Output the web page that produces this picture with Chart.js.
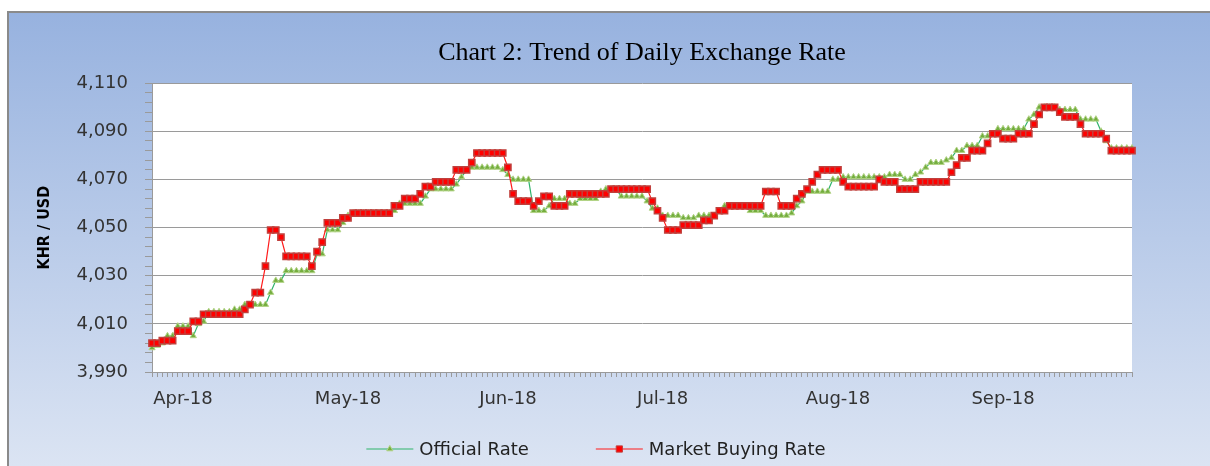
<!DOCTYPE html>
<html>
<head>
<meta charset="utf-8">
<title>Chart 2: Trend of Daily Exchange Rate</title>
<script src="https://cdn.jsdelivr.net/npm/chart.js@4.4.1/dist/chart.umd.min.js"></script>
<style>
  html, body { margin: 0; padding: 0; background: #fff; }
  canvas { display: block; }
</style>
</head>
<body>
<canvas id="chart-rate" width="1210" height="466"></canvas>
<script>
// ── Data (KHR per USD, one value per trading day, Apr–Sep 2018) ──
const officialRate = [
  4000, 4001, 4002, 4005, 4005, 4009, 4009, 4009, 4005, 4010,
  4011, 4015, 4015, 4015, 4015, 4015, 4016, 4016, 4018, 4018,
  4018, 4018, 4018, 4023, 4028, 4028, 4032, 4032, 4032, 4032,
  4032, 4032, 4039, 4039, 4049, 4049, 4049, 4052, 4055, 4056,
  4056, 4056, 4056, 4056, 4056, 4056, 4056, 4057, 4060, 4060,
  4060, 4060, 4060, 4063, 4066, 4066, 4066, 4066, 4066, 4068,
  4071, 4074, 4075, 4075, 4075, 4075, 4075, 4075, 4074, 4072,
  4070, 4070, 4070, 4070, 4057, 4057, 4057, 4059, 4062, 4062,
  4062, 4060, 4060, 4062, 4062, 4062, 4062, 4065, 4066, 4066,
  4066, 4063, 4063, 4063, 4063, 4063, 4061, 4058, 4058, 4055,
  4055, 4055, 4055, 4054, 4054, 4054, 4055, 4055, 4055, 4055,
  4057, 4059, 4059, 4059, 4059, 4059, 4057, 4057, 4057, 4055,
  4055, 4055, 4055, 4055, 4056, 4059, 4061, 4065, 4065, 4065,
  4065, 4065, 4070, 4070, 4071, 4071, 4071, 4071, 4071, 4071,
  4071, 4071, 4071, 4072, 4072, 4072, 4070, 4070, 4072, 4073,
  4075, 4077, 4077, 4077, 4078, 4079, 4082, 4082, 4084, 4084,
  4084, 4088, 4088, 4089, 4091, 4091, 4091, 4091, 4091, 4091,
  4095, 4097, 4100, 4100, 4100, 4100, 4099, 4099, 4099, 4099,
  4095, 4095, 4095, 4095, 4090, 4086, 4083, 4083, 4083, 4083,
  4083
];

const marketBuyingRate = [
  4002, 4002, 4003, 4003, 4003, 4007, 4007, 4007, 4011, 4011,
  4014, 4014, 4014, 4014, 4014, 4014, 4014, 4014, 4016, 4018,
  4023, 4023, 4034, 4049, 4049, 4046, 4038, 4038, 4038, 4038,
  4038, 4034, 4040, 4044, 4052, 4052, 4052, 4054, 4054, 4056,
  4056, 4056, 4056, 4056, 4056, 4056, 4056, 4059, 4059, 4062,
  4062, 4062, 4064, 4067, 4067, 4069, 4069, 4069, 4069, 4074,
  4074, 4074, 4077, 4081, 4081, 4081, 4081, 4081, 4081, 4075,
  4064, 4061, 4061, 4061, 4059, 4061, 4063, 4063, 4059, 4059,
  4059, 4064, 4064, 4064, 4064, 4064, 4064, 4064, 4064, 4066,
  4066, 4066, 4066, 4066, 4066, 4066, 4066, 4061, 4057, 4054,
  4049, 4049, 4049, 4051, 4051, 4051, 4051, 4053, 4053, 4055,
  4057, 4057, 4059, 4059, 4059, 4059, 4059, 4059, 4059, 4065,
  4065, 4065, 4059, 4059, 4059, 4062, 4064, 4066, 4069, 4072,
  4074, 4074, 4074, 4074, 4069, 4067, 4067, 4067, 4067, 4067,
  4067, 4070, 4069, 4069, 4069, 4066, 4066, 4066, 4066, 4069,
  4069, 4069, 4069, 4069, 4069, 4073, 4076, 4079, 4079, 4082,
  4082, 4082, 4085, 4089, 4089, 4087, 4087, 4087, 4089, 4089,
  4089, 4093, 4097, 4100, 4100, 4100, 4098, 4096, 4096, 4096,
  4093, 4089, 4089, 4089, 4089, 4087, 4082, 4082, 4082, 4082,
  4082
];

// month labels and the day index where each one sits
const monthTicks  = ['Apr-18', 'May-18', 'Jun-18', 'Jul-18', 'Aug-18', 'Sep-18'];
const monthTickAt = [6, 38, 69, 99, 133, 165];

// labelled y ticks (minor tick marks every 4 in between)
const yTicks = [3990, 4010, 4030, 4050, 4070, 4090, 4110];

// ── Styles ───────────────────────────────────────────────
const SANS   = "'DejaVu Sans', Verdana, sans-serif";
const GRID   = '#9a9a9a';
const GREEN  = '#2fb36b';
const RED    = '#ff1a1a';

const labels = officialRate.map((_, i) => {
  const k = monthTickAt.indexOf(i);
  return k >= 0 ? monthTicks[k] : '';
});

// ── Background: blue panel + white plot area ─────────────
const panelBg = {
  id: 'panelBg',
  beforeDraw(chart) {
    const { ctx, width, height, chartArea } = chart;
    ctx.save();
    ctx.fillStyle = '#fff';
    ctx.fillRect(0, 0, width, height);
    const g = ctx.createLinearGradient(0, 12, 0, height);
    g.addColorStop(0, '#97b2df');
    g.addColorStop(1, '#dbe4f3');
    ctx.fillStyle = g;
    ctx.fillRect(8, 12, width - 8, height - 12);
    ctx.strokeStyle = '#8a8a8a';
    ctx.lineWidth = 2;
    ctx.beginPath();
    ctx.moveTo(8, height);
    ctx.lineTo(8, 12);
    ctx.lineTo(width, 12);
    ctx.stroke();
    ctx.fillStyle = '#fff';
    ctx.fillRect(chartArea.left, chartArea.top, chartArea.right - chartArea.left, chartArea.bottom - chartArea.top);
    ctx.restore();
  }
};

// ── Legend: line sample with marker, centred below axis ──
const lineLegend = {
  id: 'lineLegend',
  afterDraw(chart) {
    const { ctx } = chart;
    const lineLen = 47, gap = 6, itemGap = 67, centreX = 596, y = 449;
    ctx.save();
    ctx.font = '18px ' + SANS;
    const items = chart.data.datasets.map(ds => ({ ds, w: ctx.measureText(ds.label).width }));
    const total = items.reduce((s, it) => s + lineLen + gap + it.w, 0) + itemGap * (items.length - 1);
    let x = centreX - total / 2;
    items.forEach(({ ds, w }) => {
      ctx.strokeStyle = ds.borderColor;
      ctx.lineWidth = 1.2;
      ctx.beginPath();
      ctx.moveTo(x, y);
      ctx.lineTo(x + lineLen, y);
      ctx.stroke();
      ctx.fillStyle = ds.pointBackgroundColor;
      ctx.strokeStyle = ds.pointBorderColor;
      ctx.lineWidth = 1;
      Chart.helpers.drawPoint(ctx, { pointStyle: ds.pointStyle, radius: ds.pointRadius, rotation: 0, borderWidth: 1 }, x + lineLen / 2, y);
      ctx.fillStyle = '#222';
      ctx.textAlign = 'left';
      ctx.textBaseline = 'middle';
      ctx.fillText(ds.label, x + lineLen + gap, y + 1);
      x += lineLen + gap + w + itemGap;
    });
    ctx.restore();
  }
};

// ── Chart ────────────────────────────────────────────────
new Chart(document.getElementById('chart-rate'), {
  type: 'line',
  data: {
    labels,
    datasets: [
      {
        label: 'Official Rate',
        data: officialRate,
        order: 2,
        borderColor: GREEN,
        borderWidth: 1.2,
        pointStyle: 'triangle',
        pointRadius: 3.6,
        pointBackgroundColor: '#74ad3e',
        pointBorderColor: '#b3d487',
        pointBorderWidth: 1,
        tension: 0,
        clip: false
      },
      {
        label: 'Market Buying Rate',
        data: marketBuyingRate,
        order: 1,
        borderColor: RED,
        borderWidth: 1.2,
        pointStyle: 'rect',
        pointRadius: 4.4,
        pointBackgroundColor: '#ff0000',
        pointBorderColor: '#c0403d',
        pointBorderWidth: 1.5,
        tension: 0,
        clip: false
      }
    ]
  },
  options: {
    responsive: false,
    animation: false,
    events: [],
    layout: { padding: { left: 8, right: 78, top: 0, bottom: 54 } },
    plugins: {
      legend: { display: false },
      tooltip: { enabled: false },
      title: {
        display: true,
        text: 'Chart 2: Trend of Daily Exchange Rate',
        fullSize: false,
        color: '#000',
        font: { family: "'Liberation Serif', 'Times New Roman', serif", size: 26, weight: 'normal' },
        padding: { top: 38, bottom: 14 }
      }
    },
    scales: {
      x: {
        type: 'category',
        offset: false,
        afterFit: s => { s.height = 40; },
        border: { display: true, color: GRID, width: 1 },
        grid: { display: true, drawOnChartArea: false, drawTicks: true, tickLength: 5, color: GRID },
        ticks: {
          autoSkip: false, maxRotation: 0, minRotation: 0, padding: 12,
          color: '#333', font: { family: SANS, size: 18 }
        }
      },
      y: {
        min: yTicks[0],
        max: yTicks[yTicks.length - 1],
        afterFit: s => { s.width = 144; },
        border: { display: true, color: GRID, width: 1 },
        grid: {
          drawTicks: true,
          tickLength: 7,
          tickColor: GRID,
          color: c => (c.tick && yTicks.includes(c.tick.value)) ? GRID : 'rgba(0,0,0,0)'
        },
        ticks: {
          stepSize: 4,
          maxTicksLimit: 40,
          autoSkip: false,
          padding: 17,
          color: '#333',
          font: { family: SANS, size: 18 },
          callback: v => yTicks.includes(v) ? v.toLocaleString('en-US') : ''
        },
        title: {
          display: true,
          text: 'KHR / USD',
          color: '#000',
          font: { family: "'Liberation Sans Narrow', 'DejaVu Sans Condensed', 'Liberation Sans', sans-serif", size: 16, weight: 'bold' },
          padding: { top: 27, bottom: 0 }
        }
      }
    }
  },
  plugins: [panelBg, lineLegend]
});
</script>
</body>
</html>
